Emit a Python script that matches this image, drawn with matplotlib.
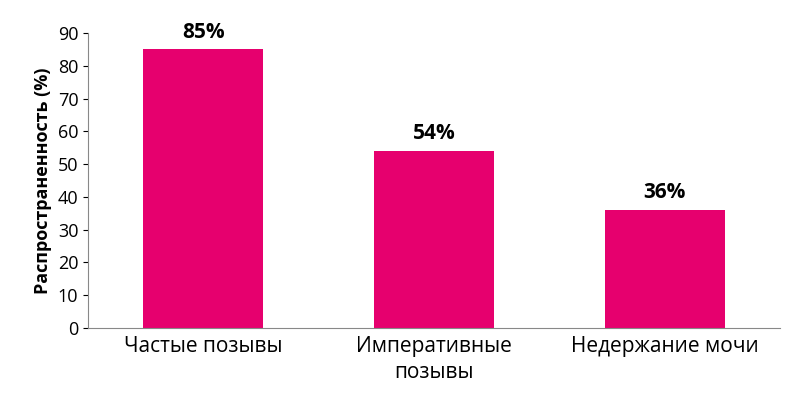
import matplotlib
matplotlib.use('Agg')
import matplotlib.pyplot as plt

categories = ['Частые позывы', 'Императивные\nпозывы', 'Недержание мочи']
values = [85, 54, 36]

plt.rcParams['font.family'] = ['Open Sans', 'DejaVu Sans']
fig = plt.figure(figsize=(8, 4.07), dpi=100)
ax = fig.add_axes([0.11, 0.194, 0.865, 0.725])
x = range(len(categories))
ax.bar(x, values, width=0.52, color='#E6006E')
for i, v in zip(x, values):
    ax.text(i, v + 2, f'{v}%', ha='center', va='bottom', fontsize=15, fontweight='bold')
ax.set_xlim(-0.5, 2.5)
ax.set_ylim(0, 90)
ax.set_yticks(range(0, 91, 10))
ax.set_xticks(list(x))
ax.set_xticklabels(categories, fontsize=15, linespacing=1.3)
ax.tick_params(axis='y', labelsize=13)
ax.tick_params(axis='x', length=0, pad=6)
ax.set_ylabel('Распространенность (%)', fontsize=13, fontweight='bold')
for s in ['top', 'right']:
    ax.spines[s].set_visible(False)
for s in ['left', 'bottom']:
    ax.spines[s].set_color('#888888')
fig.savefig('out.png', dpi=100)
